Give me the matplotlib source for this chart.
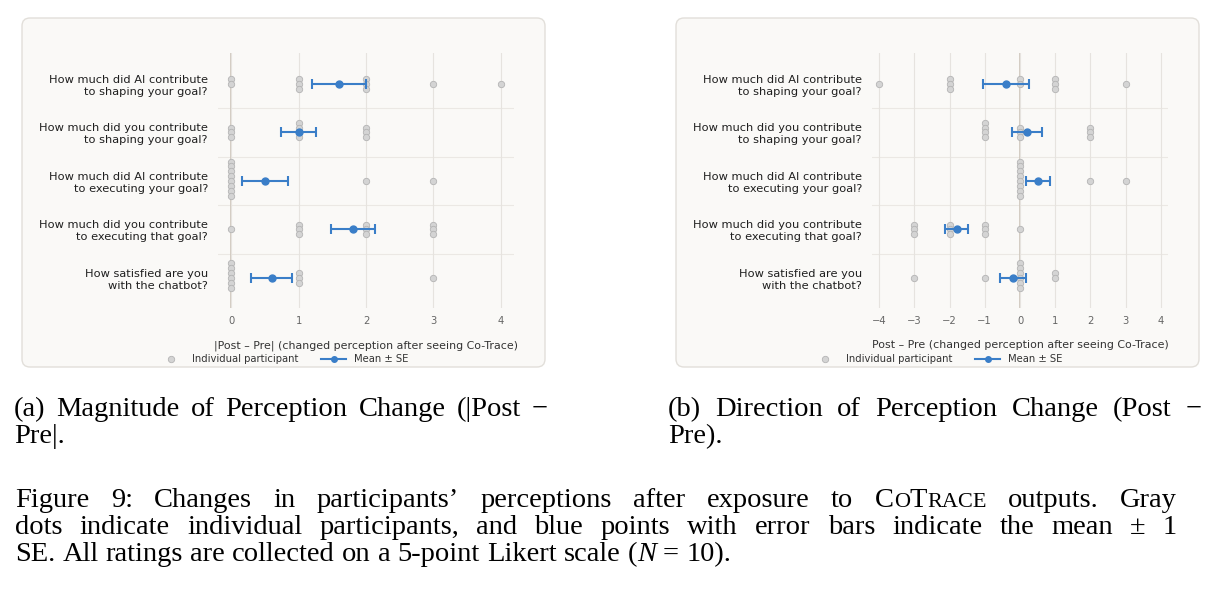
import matplotlib.pyplot as plt
import numpy as np
from matplotlib.patches import FancyBboxPatch
from matplotlib.lines import Line2D
from matplotlib.transforms import IdentityTransform

questions = [
    'How much did AI contribute\nto shaping your goal?',
    'How much did you contribute\nto shaping your goal?',
    'How much did AI contribute\nto executing your goal?',
    'How much did you contribute\nto executing that goal?',
    'How satisfied are you\nwith the chatbot?',
]

# Post - Pre per participant (N = 10), one list per question
ai_shaping = [-4, -2, -2, -2, 0, 0, 1, 1, 1, 3]
you_shaping = [-1, -1, -1, -1, 0, 0, 0, 2, 2, 2]
ai_executing = [0, 0, 0, 0, 0, 0, 0, 0, 2, 3]
you_executing = [-3, -3, -3, -2, -2, -2, -1, -1, -1, 0]
satisfied = [-3, -1, 0, 0, 0, 0, 0, 0, 1, 1]

diffs = [ai_shaping, you_shaping, ai_executing, you_executing, satisfied]

W, H = 1220, 598
BLUE = '#3a7ec8'
DOT_FC = '#d4d4d4'
DOT_EC = '#b4b4b4'
PANEL_FC = '#faf9f7'
SERIF = 'Liberation Serif'

fig = plt.figure(figsize=(W / 100, H / 100), dpi=100)
fig.patch.set_facecolor('white')


def box(x0, y0, x1, y1):
    p = FancyBboxPatch((x0, H - y1), x1 - x0, y1 - y0,
                       boxstyle='round,pad=0,rounding_size=8',
                       transform=IdentityTransform(),
                       facecolor=PANEL_FC, edgecolor='#e2dfda', lw=1.0,
                       zorder=-10)
    fig.add_artist(p)


def panel(left, xlim, xticks, values, xlabel, legend_cx):
    ax = fig.add_axes([left / W, 1 - 308 / H, 296 / W, 255.5 / H])
    ax.set_facecolor('none')
    for s in ax.spines.values():
        s.set_visible(False)
    ax.set_xlim(*xlim)
    ax.set_ylim(4.62, -0.65)
    ax.set_xticks(xticks)
    ax.set_yticks(range(len(questions)))
    ax.set_yticklabels(questions, fontsize=8.2, color='#1f1f1f')
    ax.tick_params(axis='x', length=0, labelsize=7.2, labelcolor='#666666', pad=6)
    ax.tick_params(axis='y', length=0, pad=7.2)
    ax.grid(axis='x', color='#e6e3df', lw=0.8, zorder=0)
    ax.axvline(0, color='#cdc4b9', lw=1.2, zorder=1)
    for i in range(len(questions) - 1):
        ax.axhline(i + 0.5, color='#ebe8e4', lw=0.8, zorder=0)

    for i, vals in enumerate(values):
        uniq, counts = np.unique(vals, return_counts=True)
        for v, n in zip(uniq, counts):
            ys = i + (np.arange(n) - n // 2) * 0.1
            ax.plot(np.full(n, v), ys, 'o', ms=4.6, mfc=DOT_FC, mec=DOT_EC,
                    mew=0.6, zorder=2)
        arr = np.array(vals, dtype=float)
        mean = arr.mean()
        se = arr.std(ddof=1) / np.sqrt(len(arr))
        ax.errorbar(mean, i, xerr=se, fmt='o', color=BLUE, ms=5, lw=1.5,
                    capsize=3.5, capthick=1.5, zorder=3)

    ax.set_xlabel(xlabel, fontsize=7.9, color='#333333', labelpad=10)

    handles = [
        Line2D([], [], marker='o', ls='none', ms=4.6, mfc=DOT_FC, mec=DOT_EC, mew=0.6),
        Line2D([], [], marker='o', color=BLUE, ms=4, lw=1.5),
    ]
    fig.legend(handles, ['Individual participant', 'Mean ± SE'], loc='center',
               bbox_to_anchor=(legend_cx / W, 1 - 359 / H), ncol=2, frameon=False,
               fontsize=7.2, handlelength=2.5, handletextpad=0.8, columnspacing=2.3,
               labelcolor='#333333', borderpad=0.1)
    return ax


box(22, 18, 545, 367)
box(676, 18, 1199, 367)

magnitude = [np.abs(d) for d in diffs]
panel(218, (-0.2, 4.2), range(0, 5), magnitude,
      '|Post – Pre| (changed perception after seeing Co-Trace)', 283.5)
panel(872, (-4.2, 4.2), range(-4, 5), diffs,
      'Post – Pre (changed perception after seeing Co-Trace)', 937.5)

# ---- captions (serif, justified lines) ----
renderer = fig.canvas.get_renderer()
CAP = 20.5


def seg_w(txt, size, style):
    t = fig.text(0, 0, txt, fontsize=size, family=SERIF, style=style,
                 transform=IdentityTransform())
    w = t.get_window_extent(renderer).width
    t.remove()
    return w


def words(s):
    return [[(w, 1.0, 'normal')] for w in s.split()]


def draw_line(x, y, wlist, size=CAP, width=None):
    widths = [sum(seg_w(s, size * sc, st) for s, sc, st in w) for w in wlist]
    space = seg_w('a a', size, 'normal') - seg_w('aa', size, 'normal')
    if width is not None:
        space = max((width - sum(widths)) / (len(wlist) - 1), 0.5 * space)
    cx = x
    for w, ww in zip(wlist, widths):
        for s, sc, st in w:
            fig.text(cx, H - y, s, fontsize=size * sc, family=SERIF, style=st,
                     va='baseline', ha='left', transform=IdentityTransform(),
                     color='black')
            cx += seg_w(s, size * sc, st)
        cx += space


draw_line(14, 416, words('(a) Magnitude of Perception Change (|Post −'), width=534)
draw_line(14, 443, words('Pre|.'))
draw_line(668, 416, words('(b) Direction of Perception Change (Post −'), width=534)
draw_line(668, 443, words('Pre).'))

cotrace = [('C', 1.0, 'normal'), ('O', 0.78, 'normal'), ('T', 1.0, 'normal'),
           ('RACE', 0.78, 'normal')]
line1 = (words('Figure 9: Changes in participants’ perceptions after exposure to')
         + [cotrace] + words('outputs. Gray'))
line2 = words('dots indicate individual participants, and blue points with error bars '
              'indicate the mean ± 1')
line3 = (words('SE. All ratings are collected on a 5-point Likert scale')
         + [[('(', 1.0, 'normal'), ('N', 1.0, 'italic')]] + words('= 10).'))
draw_line(15, 507, line1, width=1162)
draw_line(15, 534, line2, width=1162)
draw_line(15, 561, line3)

fig.savefig('out.png', dpi=100)
